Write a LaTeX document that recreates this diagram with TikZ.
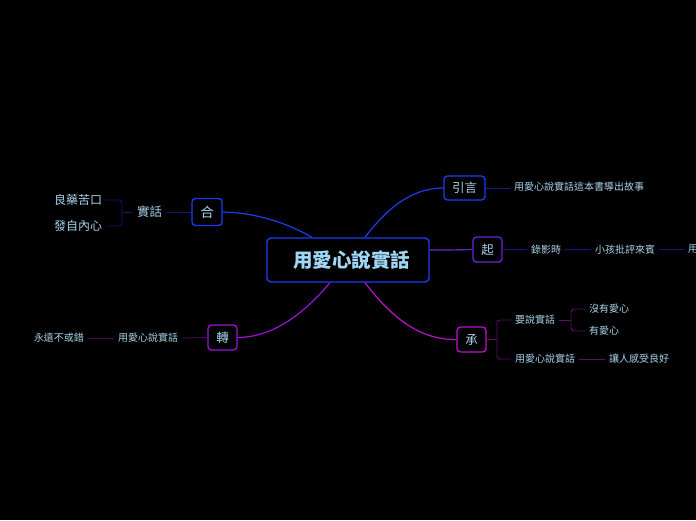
\documentclass[tikz,border=0pt]{standalone}
\usepackage{fontspec}
\setmainfont{Noto Sans CJK TC}
\definecolor{txt}{HTML}{A8D2EA}
\definecolor{ctxt}{HTML}{9FD8F6}
\definecolor{cblue}{HTML}{1A3CF5}
\definecolor{cviolet}{HTML}{6A22D8}
\definecolor{cmag}{HTML}{C010C8}
\definecolor{cpurp}{HTML}{9A14D8}
\definecolor{lblue}{HTML}{0E1C8C}
\definecolor{lindigo}{HTML}{2A0C88}
\definecolor{lmag}{HTML}{62086E}
\definecolor{lpurp}{HTML}{4C0660}
\definecolor{lnavy}{HTML}{0C1872}
\tikzset{
  topic/.style={draw, rounded corners=3.5pt, line width=1.3pt, inner sep=0pt, text=txt, font=\fontsize{12.5}{14}\selectfont},
  leaf/.style={inner sep=0pt, outer xsep=4pt, outer ysep=0pt, text=txt, font=\fontsize{10}{12}\selectfont},
  bigleaf/.style={inner sep=0pt, outer xsep=4pt, outer ysep=0pt, text=txt, font=\fontsize{12}{14}\selectfont},
  conn/.style={line width=1.2pt},
  thin/.style={line width=0.9pt},
}
\begin{document}
\begin{tikzpicture}[x=1pt,y=-1pt]
\fill[black] (0,0) rectangle (696,520);
\useasboundingbox (0,0) rectangle (696,520);

% central topic
\node[draw=cblue, rounded corners=4pt, line width=1.4pt, minimum width=162pt, minimum height=44pt, inner sep=0pt, text=ctxt, font=\fontsize{19.5}{22}\selectfont\bfseries] (c) at (348,260) {\hspace{7pt}用愛心說實話};

% main topics
\node[topic, draw=cblue, minimum width=41pt, minimum height=24pt] (yin) at (464.5,188) {引言};
\node[topic, draw=cviolet, minimum width=29pt, minimum height=25pt] (qi) at (487.5,249.5) {起};
\node[topic, draw=cmag, minimum width=29pt, minimum height=25pt] (cheng) at (471.5,339.5) {承};
\node[topic, draw=cpurp, minimum width=29pt, minimum height=25pt] (zhuan) at (222.5,337.5) {轉};
\node[topic, draw=cblue, minimum width=30pt, minimum height=27pt, font=\fontsize{13.5}{15}\selectfont] (he) at (207,212) {合};

% main connectors
\coordinate (cn1) at ([xshift=17pt]c.north);
\draw[conn, cblue] (yin.west) .. controls (405,188) and (380,218) .. (cn1);
\coordinate (cn2) at ([xshift=-36pt]c.north);
\draw[conn, cblue] (he.east) .. controls (262,213) and (292,226) .. (cn2);
\coordinate (ce) at ([yshift=10pt]c.east);
\draw[conn, cviolet] (ce) .. controls (450,250) .. (qi.west);
\coordinate (cs1) at ([xshift=17pt]c.south);
\draw[conn, cmag] (cs1) .. controls (392,318) and (420,340) .. (cheng.west);
\coordinate (cs2) at ([xshift=-18pt]c.south);
\draw[conn, cpurp] (cs2) .. controls (305,312) and (275,337) .. (zhuan.east);

% 引言 branch
\node[leaf, anchor=west] (y1) at (510,187) {用愛心說實話這本書導出故事};
\draw[thin, lblue] (yin.east) -- (yin.east -| y1.west);

% 起 branch
\node[leaf, anchor=west] (q1) at (527,249.5) {錄影時};
\node[leaf, anchor=west] (q2) at (591,249.5) {小孩批評來賓};
\node[leaf, anchor=west] (q3) at (684,249.5) {用};
\draw[thin, lindigo] (qi.east) -- (q1.west);
\draw[thin, lindigo] (q1.east) -- (q2.west);
\draw[thin, lindigo] (q2.east) -- (q3.west);

% 承 branch
\node[leaf, anchor=west] (c1) at (511,320) {要說實話};
\node[leaf, anchor=west] (c2) at (511,359) {用愛心說實話};
\node[leaf, anchor=west] (c11) at (585,309) {沒有愛心};
\node[leaf, anchor=west] (c12) at (585,331) {有愛心};
\node[leaf, anchor=west] (c21) at (605,359) {讓人感受良好};
\coordinate (b1) at (497,339.5);
\draw[thin, lmag] (cheng.east) -- (b1);
\draw[thin, lmag, rounded corners=3pt] (c1.west) -| (b1) |- (c2.west);
\coordinate (b2) at (571,320);
\draw[thin, lmag] (c1.east) -- (b2);
\draw[thin, lmag, rounded corners=3pt] (c11.west) -| (b2) |- (c12.west);
\draw[thin, lmag] (c2.east) -- (c21.west);

% 轉 branch
\node[leaf, anchor=east] (z1) at (182,338) {用愛心說實話};
\node[leaf, anchor=east] (z2) at (88,338) {永遠不或錯};
\draw[thin, lpurp] (zhuan.west) -- (z1.east);
\draw[thin, lpurp] (z1.west) -- (z2.east);

% 合 branch
\node[bigleaf, anchor=east, font=\fontsize{12.5}{14}\selectfont] (h1) at (166,212) {實話};
\node[bigleaf, anchor=east] (h11) at (106,200) {良藥苦口};
\node[bigleaf, anchor=east] (h12) at (106,226) {發自內心};
\draw[thin, lnavy] (he.west) -- (h1.east);
\coordinate (b3) at (122,212);
\draw[thin, lnavy] (h1.west) -- (b3);
\draw[thin, lnavy, rounded corners=3pt] (h11.east) -| (b3) |- (h12.east);
\end{tikzpicture}
\end{document}
